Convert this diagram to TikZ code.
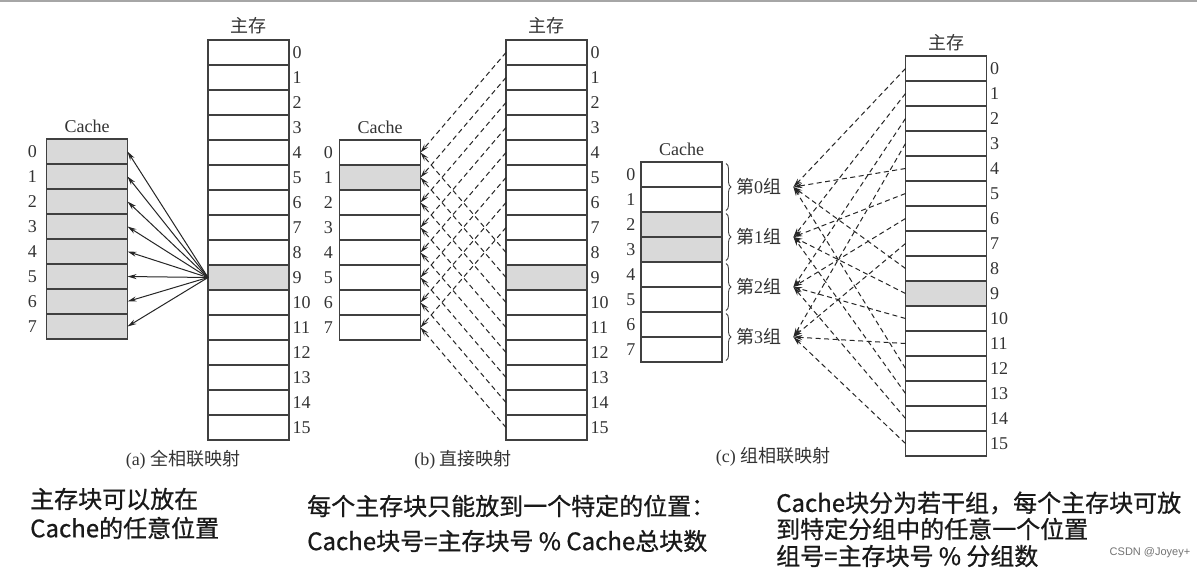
\documentclass[tikz,border=0pt]{standalone}
\usepackage{fontspec}
\setmainfont{Liberation Serif}
\newfontfamily\cjk{Noto Sans CJK SC}
\newfontfamily\cjkn{Noto Sans CJK SC}[FakeBold=0.8]
\newfontfamily\wmark{Liberation Sans}
\usetikzlibrary{arrows.meta,positioning,decorations.pathreplacing}

\begin{document}
\begin{tikzpicture}[
  x=1pt, y=-1pt,
  font=\fontsize{18}{20}\selectfont,
  blk/.style={draw=black!75, line width=1.3pt, minimum width=81pt, minimum height=25pt, inner sep=0pt, outer sep=0pt},
  num/.style={inner sep=0pt, text=black!80},
  ttl/.style={inner sep=0pt, text=black!80},
  grp/.style={inner sep=0pt, anchor=west, text=black!80},
  arr/.style={-{Stealth[length=9pt,width=5pt]}, line width=1pt, draw=black!85},
  darr/.style={arr, dash pattern=on 5pt off 3.5pt},
  brc/.style={decorate, decoration={brace, amplitude=5pt}, line width=0.9pt, draw=black!75},
  note/.style={inner sep=0pt, anchor=west, font=\fontsize{24}{28}\selectfont\cjkn, text=black!90}
]
\useasboundingbox (0,0) rectangle (1197,571);
\fill[white] (0,0) rectangle (1197,571);
\draw[black!35, line width=2pt] (0,1) -- (1197,1);

% (a) full associative
\node[blk] (am0) at (248.5,52.5) {};
\foreach \i [evaluate=\i as \p using int(\i-1)] in {1,...,15}{
  \ifnum\i=9 \tikzset{cur/.style={fill=black!15}}\else\tikzset{cur/.style={fill=white}}\fi
  \node[blk, cur, below=0pt of am\p] (am\i) {};
}
\node[blk, fill=black!15] (ac0) at (87,151.5) {};
\foreach \i [evaluate=\i as \p using int(\i-1)] in {1,...,7}
  \node[blk, fill=black!15, below=0pt of ac\p] (ac\i) {};
\foreach \i in {0,...,15} \node[num, right=3.5pt of am\i] (amn\i) {\i};
\foreach \i in {0,...,7} \node[num, left=9.5pt of ac\i] (acn\i) {\i};
\node[ttl, above=6pt of am0] (amt) {\cjk 主存};
\node[ttl, above=6pt of ac0] (act) {Cache};
\foreach \i in {0,...,7} \draw[arr] (am9.west) -- (ac\i.east);
\node[ttl] (capa) at (183,460) {(a) {\cjk 全相联映射}};

% (b) direct
\node[blk] (bm0) at (546.5,52.5) {};
\foreach \i [evaluate=\i as \p using int(\i-1)] in {1,...,15}{
  \ifnum\i=9 \tikzset{cur/.style={fill=black!15}}\else\tikzset{cur/.style={fill=white}}\fi
  \node[blk, cur, below=0pt of bm\p] (bm\i) {};
}
\node[blk] (bc0) at (380,152.5) {};
\foreach \i [evaluate=\i as \p using int(\i-1)] in {1,...,7}{
  \ifnum\i=1 \tikzset{cur/.style={fill=black!15}}\else\tikzset{cur/.style={fill=white}}\fi
  \node[blk, cur, below=0pt of bc\p] (bc\i) {};
}
\foreach \i in {0,...,15} \node[num, right=3.5pt of bm\i] (bmn\i) {\i};
\foreach \i in {0,...,7} \node[num, left=6.5pt of bc\i] (bcn\i) {\i};
\node[ttl, above=6pt of bm0] (bmt) {\cjk 主存};
\node[ttl, above=6pt of bc0] (bct) {Cache};
\foreach \i in {0,...,15}{
  \pgfmathtruncatemacro\k{mod(\i,8)}
  \draw[darr] (bm\i.west) -- (bc\k.east);
}
\node[ttl] (capb) at (463,460) {(b) {\cjk 直接映射}};

% (c) set associative
\node[blk] (cm0) at (946,68.5) {};
\foreach \i [evaluate=\i as \p using int(\i-1)] in {1,...,15}{
  \ifnum\i=9 \tikzset{cur/.style={fill=black!15}}\else\tikzset{cur/.style={fill=white}}\fi
  \node[blk, cur, below=0pt of cm\p] (cm\i) {};
}
\node[blk] (cc0) at (681.5,174.5) {};
\foreach \i [evaluate=\i as \p using int(\i-1)] in {1,...,7}{
  \ifnum\i=2 \tikzset{cur/.style={fill=black!15}}\else
  \ifnum\i=3 \tikzset{cur/.style={fill=black!15}}\else\tikzset{cur/.style={fill=white}}\fi\fi
  \node[blk, cur, below=0pt of cc\p] (cc\i) {};
}
\foreach \i in {0,...,15} \node[num, right=3.5pt of cm\i] (cmn\i) {\i};
\foreach \i in {0,...,7} \node[num, left=5.5pt of cc\i] (ccn\i) {\i};
\node[ttl, above=5pt of cm0] (cmt) {\cjk 主存};
\node[ttl, above=6.5pt of cc0] (cct) {Cache};
\foreach \k [evaluate=\k as \a using int(2*\k), evaluate=\k as \b using int(2*\k+1)] in {0,...,3}{
  \draw[brc] ([xshift=4pt,yshift=-1.5pt]cc\a.north east) -- ([xshift=4pt,yshift=1.5pt]cc\b.south east);
  \node[grp] (g\k) at (736,{187+50*\k}) {{\cjk 第}\k{\cjk 组}};
  \coordinate (gt\k) at ([xshift=12pt]g\k.east);
}
\foreach \i in {0,...,15}{
  \pgfmathtruncatemacro\k{mod(\i,4)}
  \draw[darr] (cm\i.west) -- (gt\k);
}
\node[ttl] (capc) at (773,457) {(c) {\cjk 组相联映射}};

% notes
\node[note] (na1) at (30,499) {主存块可以放在};
\node[note] (na2) at (30,528) {Cache的任意位置};
\node[note] (nb1) at (307,506) {每个主存块只能放到一个特定的位置：};
\node[note] (nb2) at (307,541) {Cache块号=主存块号 \% Cache总块数};
\node[note] (nc1) at (776,503) {Cache块分为若干组，每个主存块可放};
\node[note] (nc2) at (776,529) {到特定分组中的任意一个位置};
\node[note] (nc3) at (776,556) {组号=主存块号 \% 分组数};
\node[inner sep=0pt, text=black!55, font=\fontsize{11}{12}\selectfont\wmark] (wm) at (1150,553) {CSDN @Joyey+};
\end{tikzpicture}
\end{document}
